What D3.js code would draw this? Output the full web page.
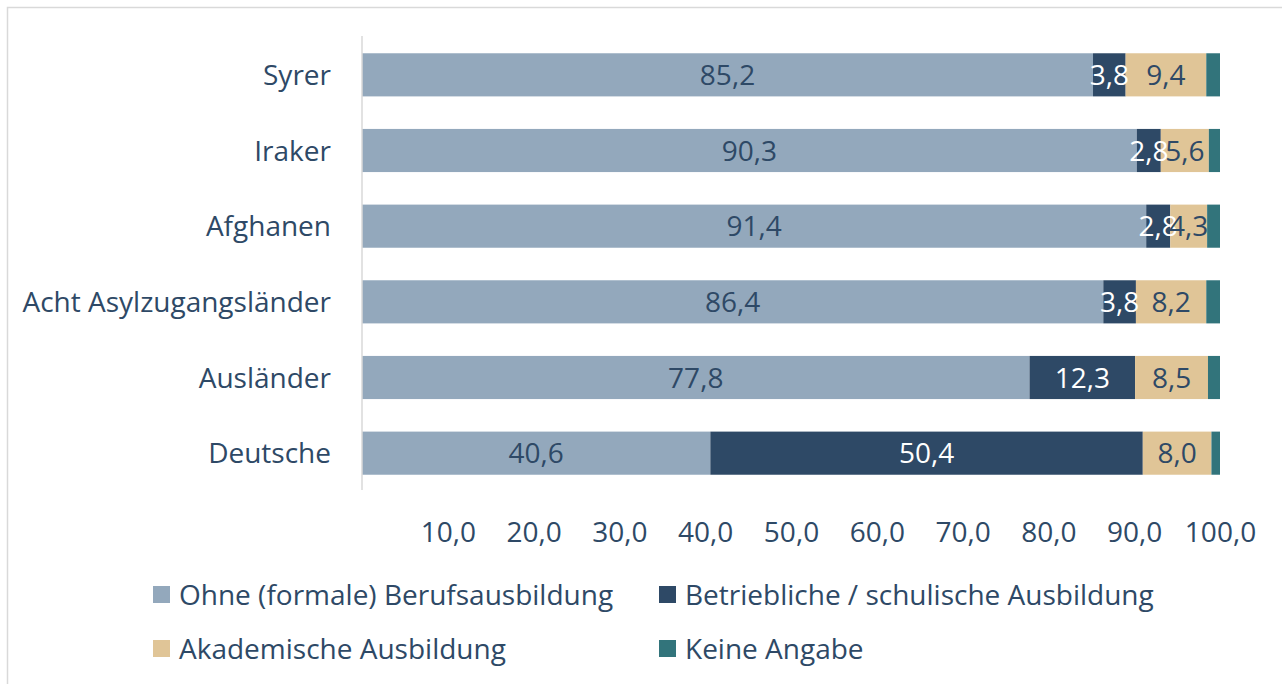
<!DOCTYPE html>
<html><head><meta charset="utf-8">
<script src="https://cdn.jsdelivr.net/npm/d3@7"></script>
<style>body{margin:0;background:#fff}svg{display:block}</style>
</head><body>
<script>
const categories = ["Syrer","Iraker","Afghanen","Acht Asylzugangsländer","Ausländer","Deutsche"];
const seriesNames = ["Ohne (formale) Berufsausbildung","Betriebliche / schulische Ausbildung","Akademische Ausbildung","Keine Angabe"];
const ohne = [85.2, 90.3, 91.4, 86.4, 77.8, 40.6];
const betrieb = [3.8, 2.8, 2.8, 3.8, 12.3, 50.4];
const akad = [9.4, 5.6, 4.3, 8.2, 8.5, 8.0];
const keine = [1.6, 1.3, 1.5, 1.6, 1.4, 1.0];
const tickValues = [10,20,30,40,50,60,70,80,90,100];

const colors = ["#93a8bc","#2e4966","#e0c597","#32747b"];
const labelColors = ["#2e4966","#ffffff","#2e4966",null];
const textColor = "#2e4966";
const font = "'Open Sans', sans-serif";
const fs = 28;

const W = 1282, H = 684;
const svg = d3.select("body").append("svg").attr("width", W).attr("height", H);
svg.append("rect").attr("x",7.5).attr("y",7.5).attr("width",W+10).attr("height",H+10)
  .attr("fill","#fff").attr("stroke","#d9d9d9").attr("stroke-width",1.5);

const x = d3.scaleLinear().domain([0,100]).range([362,1220]);
const y = d3.scaleBand().domain(categories).range([37,491]).paddingInner(0.43).paddingOuter(0.215);

const data = categories.map((c,i)=>({cat:c, v:[ohne[i],betrieb[i],akad[i],keine[i]]}));
const stack = d3.stack().keys([0,1,2,3]).value((d,k)=>d.v[k]);
const layers = stack(data);

layers.forEach((layer,k)=>{
  const g = svg.append("g");
  g.selectAll("rect").data(layer).join("rect")
    .attr("x", d=>x(d[0])).attr("width", d=>x(d[1])-x(d[0]))
    .attr("y", d=>y(d.data.cat)).attr("height", y.bandwidth())
    .attr("fill", colors[k]);
});
layers.forEach((layer,k)=>{
  if(!labelColors[k]) return;
  svg.append("g").selectAll("text").data(layer).join("text")
    .attr("x", d=>(x(d[0])+x(d[1]))/2)
    .attr("y", d=>y(d.data.cat)+y.bandwidth()/2)
    .attr("dy","0.36em").attr("text-anchor","middle")
    .attr("font-family",font).attr("font-size",fs)
    .attr("fill",labelColors[k])
    .text(d=>d3.format(".1f")(d[1]-d[0]).replace(".",","));
});

// vertical axis line
svg.append("line").attr("x1",362).attr("x2",362).attr("y1",36).attr("y2",490)
  .attr("stroke","#d9d9d9").attr("stroke-width",1.5);

// category labels
svg.append("g").selectAll("text").data(categories).join("text")
  .attr("x",331).attr("y",d=>y(d)+y.bandwidth()/2).attr("dy","0.36em")
  .attr("text-anchor","end").attr("font-family",font).attr("font-size",fs)
  .attr("fill",textColor).text(d=>d);

// x axis tick labels
const xAxis = d3.axisBottom(x).tickValues(tickValues).tickSize(0)
  .tickFormat(d=>d3.format(".1f")(d).replace(".",","));
const ax = svg.append("g").attr("transform","translate(0,519)").call(xAxis);
ax.select(".domain").remove();
ax.selectAll("text").attr("font-family",font).attr("font-size",fs).attr("fill",textColor).attr("dy","0.71em");

// legend
const legendPos = [[153,595],[659,595],[153,649],[659,649]];
seriesNames.forEach((n,k)=>{
  const [lx,ly] = legendPos[k];
  svg.append("rect").attr("x",lx).attr("y",ly-9).attr("width",17).attr("height",17).attr("fill",colors[k]);
  svg.append("text").attr("x",lx+26).attr("y",ly).attr("dy","0.36em")
    .attr("font-family",font).attr("font-size",fs).attr("fill",textColor).text(n);
});
</script>
</body></html>
